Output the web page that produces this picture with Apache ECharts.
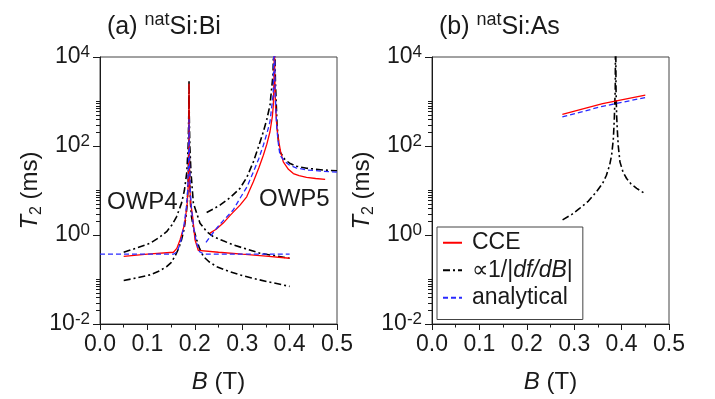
<!DOCTYPE html>
<html>
<head>
<meta charset="utf-8">
<script src="https://cdn.jsdelivr.net/npm/echarts@6/dist/echarts.min.js"></script>
<style>
  html, body { margin: 0; padding: 0; background: #fff; }
  #chart { width: 715px; height: 399px; }
</style>
</head>
<body>
<div id="chart"></div>
<script>
// ---- axes ----
const bTicks = [0, 0.1, 0.2, 0.3, 0.4, 0.5];                 // B (T)
const t2Decades = [0.01, 1, 100, 10000];                      // labelled T2 ticks (ms)
const t2Minor = [0.02, 0.03, 0.04, 0.05, 0.06, 0.07, 0.08, 0.09, 0.1,
                 2, 3, 4, 5, 6, 7, 8, 9, 10,
                 200, 300, 400, 500, 600, 700, 800, 900, 1000];

// ---- (a) natSi:Bi, [B (T), T2 (ms)] ----
const biCceOwp4 = [[0.05,0.33],[0.10,0.37],[0.155,0.41],[0.162,0.5],[0.169,0.78],[0.175,1.3],[0.179,1.84],
  [0.184,5.2],[0.186,12],[0.187,40],[0.1875,250],[0.1878,2500],[0.1882,250],[0.1887,40],[0.1893,12],
  [0.1915,5],[0.1955,2.6],[0.2004,0.78],[0.2075,0.45],[0.25,0.41],[0.30,0.37],[0.35,0.335],[0.40,0.30]];
const biAnaOwp4 = [[0,0.37],[0.1,0.37],[0.155,0.37],[0.163,0.42],[0.17,0.7],[0.177,1.6],[0.182,4],[0.185,10],
  [0.1868,40],[0.1875,150],[0.1878,400],[0.1882,150],[0.1889,40],[0.1905,10],[0.193,4],[0.197,1.6],
  [0.203,0.7],[0.21,0.42],[0.22,0.37],[0.3,0.37],[0.4,0.37]];
const biDfdbOwp4Upper = [[0.05,0.41],[0.08,0.52],[0.1055,0.65],[0.125,0.88],[0.1406,1.19],[0.152,1.7],
  [0.1617,2.6],[0.172,5.2],[0.178,10],[0.183,25],[0.186,100],[0.1873,500],[0.1878,3000],[0.1883,500],
  [0.1895,100],[0.192,25],[0.197,5.2],[0.211,1.84],[0.225,1.2],[0.239,0.92],[0.26,0.74],[0.281,0.6],
  [0.31,0.48],[0.3376,0.39],[0.37,0.34],[0.4,0.30]];
const biDfdbOwp4Lower = [[0.05,0.095],[0.08,0.11],[0.1055,0.127],[0.125,0.155],[0.1406,0.195],[0.15,0.24],
  [0.158,0.33],[0.166,0.5],[0.172,0.78],[0.177,1.3],[0.1814,2.6],[0.184,5],[0.186,15],[0.1872,80],
  [0.1878,1500],[0.1884,80],[0.1895,15],[0.191,5],[0.193,2.6],[0.198,1.3],[0.204,0.78],[0.21,0.5],
  [0.218,0.33],[0.23,0.25],[0.246,0.195],[0.27,0.155],[0.295,0.127],[0.32,0.108],[0.352,0.09],
  [0.375,0.08],[0.4,0.07]];
const biCceOwp5 = [[0.232,1.1],[0.245,1.35],[0.26,1.85],[0.275,2.8],[0.2954,4.7],[0.3095,7.2],[0.3235,15.7],
  [0.335,32],[0.3446,62],[0.352,110],[0.3586,209],[0.3635,450],[0.3657,826],[0.3672,4000],[0.3678,100000],
  [0.3686,4000],[0.3705,700],[0.373,280],[0.376,148],[0.381,75],[0.3867,44],[0.3975,30],[0.4079,24],
  [0.42,21.5],[0.4357,19.8],[0.455,18.6],[0.475,17.8]];
const biAnaOwp5 = [[0.2236,0.68],[0.235,1.0],[0.246,1.42],[0.26,2.1],[0.281,3.65],[0.2954,6.7],[0.31,12],
  [0.3235,26],[0.335,52],[0.3446,104],[0.352,190],[0.3586,350],[0.3655,1500],[0.3678,100000],[0.3695,1500],
  [0.373,250],[0.376,120],[0.3797,62],[0.39,45],[0.40,37],[0.415,32],[0.436,29],[0.47,27],[0.5,26]];
const biDfdbOwp5 = [[0.225,3.2],[0.24,3.9],[0.253,4.7],[0.275,7],[0.2954,11.2],[0.31,20],[0.3235,44],
  [0.335,100],[0.3446,209],[0.352,400],[0.3586,826],[0.365,4000],[0.3678,100000],[0.37,3000],[0.3735,300],
  [0.3765,130],[0.3797,74],[0.39,50],[0.40,41],[0.415,35],[0.436,31.6],[0.47,29],[0.5,27.7]];

// ---- (b) natSi:As, [B (T), T2 (ms)] ----
const asCce = [[0.275,515],[0.36,900],[0.45,1390]];
const asAna = [[0.275,452],[0.36,780],[0.45,1230]];
const asDfdb = [[0.2755,2.19],[0.295,2.9],[0.312,4.0],[0.33,5.8],[0.347,9.4],[0.36,14.5],[0.368,22],
  [0.375,38],[0.379,63],[0.3825,140],[0.3846,400],[0.3866,1950],[0.3874,100000],[0.3882,1950],
  [0.3895,500],[0.3908,246],[0.393,100],[0.3965,44],[0.403,26],[0.4106,18.6],[0.42,14],
  [0.4318,11.2],[0.4514,8.2]];

const NAME_CCE = 'CCE';
const NAME_DFDB = '\u221d1/|df/dB|';
const NAME_ANA = 'analytical';

const FONT = '"Liberation Sans", Arial, Helvetica, sans-serif';
const INK = '#1a1a1a';

const panels = [
  { left: 100, title: '(a) ', host: 'Si:Bi' },
  { left: 432, title: '(b) ', host: 'Si:As' }
];
const GRID_TOP = 57, GRID_W = 237, GRID_H = 267.5;

const supRich = {
  b: { fontSize: 23, lineHeight: 28, fontFamily: FONT, color: INK },
  e: { fontSize: 17, lineHeight: 18, padding: [0, 0, 10, 0], fontFamily: FONT, color: INK }
};

function decadeLabel(v) {
  const e = Math.round(Math.log10(v));
  return '{b|10}{e|' + e + '}';
}

const grids = [], xAxes = [], yAxes = [];
panels.forEach((p, i) => {
  grids.push({ left: p.left, top: GRID_TOP, width: GRID_W, height: GRID_H,
    show: true, borderColor: '#444', borderWidth: 1, backgroundColor: 'transparent' });
  xAxes.push({
    type: 'value', gridIndex: i, min: bTicks[0], max: bTicks[bTicks.length - 1], interval: 0.1,
    axisLine: { show: true, lineStyle: { color: INK, width: 1 } },
    axisTick: { show: true, length: 6, lineStyle: { color: INK } },
    minorTick: { show: true, splitNumber: 2, length: 3.5, lineStyle: { color: INK } },
    splitLine: { show: false },
    axisLabel: { margin: 9, fontSize: 23, fontFamily: FONT, color: INK, formatter: v => v.toFixed(1) },
    name: '{it|B} (T)', nameLocation: 'middle', nameGap: 46,
    nameTextStyle: { fontSize: 24, fontFamily: FONT, color: INK,
      rich: { it: { fontStyle: 'italic', fontSize: 24, fontFamily: FONT, color: INK } } }
  });
  yAxes.push({
    type: 'log', logBase: 10, gridIndex: i, min: 0.01, max: 10000,
    axisLine: { show: true, lineStyle: { color: INK, width: 1 } },
    axisTick: { show: true, length: 7, customValues: t2Decades, lineStyle: { color: INK } },
    splitLine: { show: false },
    axisLabel: { margin: 10, customValues: t2Decades, formatter: decadeLabel, rich: supRich },
    name: '{it|T}{sub|2}{n| (ms)}', nameLocation: 'middle', nameRotate: 90, nameGap: 55,
    nameTextStyle: { rich: {
      it: { fontStyle: 'italic', fontSize: 24, lineHeight: 30, fontFamily: FONT, color: INK },
      sub: { fontSize: 16, lineHeight: 16, padding: [14, 0, 0, 0], fontFamily: FONT, color: INK },
      n: { fontSize: 24, lineHeight: 30, fontFamily: FONT, color: INK } } }
  });
  // minor decade ticks
  yAxes.push({
    type: 'log', logBase: 10, gridIndex: i, min: 0.01, max: 10000, position: 'left', offset: 0,
    axisLine: { show: true, lineStyle: { color: 'rgba(0,0,0,0)', width: 0 } },
    splitLine: { show: false },
    axisLabel: { show: false, customValues: t2Minor },
    axisTick: { show: true, length: 4, customValues: t2Minor, lineStyle: { color: INK, width: 1 } }
  });
});

const redStyle = { color: '#ff0000', width: 1.3, type: 'solid' };
const blackStyle = { color: '#000000', width: 1.6, type: [7, 3, 2, 3] };
const blueStyle = { color: '#2a2aff', width: 1.3, type: [5, 3] };

function line(name, data, gi, style, z) {
  return { type: 'line', name, data, xAxisIndex: gi, yAxisIndex: gi * 2,
    showSymbol: false, symbol: 'none', clip: true, lineStyle: style, color: style.color,
    z, silent: true, animation: false };
}

const series = [
  line(NAME_DFDB, biDfdbOwp4Upper, 0, blackStyle, 2),
  line(NAME_DFDB, biDfdbOwp4Lower, 0, blackStyle, 2),
  line(NAME_DFDB, biDfdbOwp5, 0, blackStyle, 2),
  line(NAME_CCE, biCceOwp4, 0, redStyle, 3),
  line(NAME_CCE, biCceOwp5, 0, redStyle, 3),
  line(NAME_ANA, biAnaOwp4, 0, blueStyle, 4),
  line(NAME_ANA, biAnaOwp5, 0, blueStyle, 4),
  line(NAME_DFDB, asDfdb, 1, blackStyle, 2),
  line(NAME_CCE, asCce, 1, redStyle, 3),
  line(NAME_ANA, asAna, 1, blueStyle, 4)
];

function panelTitle(p) {
  return { type: 'text', x: p.left + 7, y: 27,
    style: { text: '{p|' + p.title + '}{s|nat}{p|' + p.host + '}', verticalAlign: 'middle',
      rich: {
        p: { fontSize: 25, lineHeight: 32, fontFamily: FONT, fill: INK, color: INK },
        s: { fontSize: 18, lineHeight: 18, padding: [0, 0, 14, 0], fontFamily: FONT, fill: INK, color: INK }
      } } };
}

const option = {
  backgroundColor: '#ffffff',
  animation: false,
  grid: grids, xAxis: xAxes, yAxis: yAxes, series,
  legend: {
    data: [NAME_CCE, NAME_DFDB, NAME_ANA],
    orient: 'vertical', left: 437, top: 227,
    itemWidth: 19, itemHeight: 12, itemGap: 0,
    padding: [2, 10, 8, 5],
    borderColor: '#444', borderWidth: 1,
    selectedMode: false,
    itemStyle: { opacity: 0 },
    formatter: n => n === NAME_DFDB ? '\u221d1/|{i|df/dB}|' : n,
    textStyle: { fontSize: 23, lineHeight: 27.5, fontFamily: FONT, color: INK, padding: [0, 0, 0, 5],
      rich: { i: { fontStyle: 'italic', fontSize: 23, lineHeight: 27.5, fontFamily: FONT, color: INK } } }
  },
  graphic: [
    panelTitle(panels[0]), panelTitle(panels[1]),
    { type: 'text', x: 107, y: 202, style: { text: 'OWP4', fontSize: 24, fontFamily: FONT, fill: INK, verticalAlign: 'middle' } },
    { type: 'text', x: 259, y: 199, style: { text: 'OWP5', fontSize: 24, fontFamily: FONT, fill: INK, verticalAlign: 'middle' } }
  ]
};

const chart = echarts.init(document.getElementById('chart'), null, { renderer: 'canvas' });
chart.setOption(option);
</script>
</body>
</html>
